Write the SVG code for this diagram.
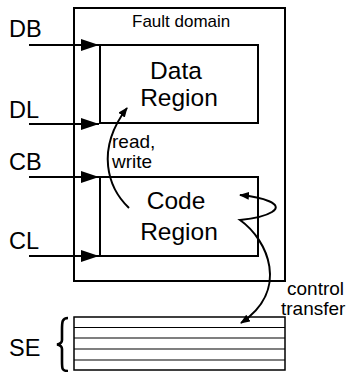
<svg xmlns="http://www.w3.org/2000/svg" width="351" height="372" viewBox="0 0 351 372">
<style>
text{font-family:"Liberation Sans",Arial,sans-serif;fill:#000}
.box{fill:#fff;stroke:#000;stroke-width:2}
.big{font-size:24.5px}
.lab{font-size:23.5px}
.mid{font-size:19px}
.conn{fill:none;stroke:#000;stroke-width:2}
.thin{fill:none;stroke:#000;stroke-width:1.2}
</style>
<defs>
<marker id="tri" markerWidth="10" markerHeight="8" refX="9" refY="4" orient="auto-start-reverse" markerUnits="userSpaceOnUse" viewBox="0 0 10 8">
<path d="M0,0 L10,4 L0,8 Z" fill="#000"/>
</marker>
<marker id="big" markerWidth="18" markerHeight="12" refX="18" refY="6" orient="auto" markerUnits="userSpaceOnUse" viewBox="0 0 18 12">
<path d="M0,0 L18,6 L0,12 Z" fill="#000"/>
</marker>
</defs>
<g id="fault-domain">
<rect class="box" x="74" y="8" width="211" height="273"/>
<text x="132" y="27" style="font-size:17px">Fault domain</text>
</g>
<g id="data-region">
<rect class="box" x="100" y="45" width="158" height="78"/>
<text class="big" x="176" y="79" text-anchor="middle">Data</text>
<text class="big" x="179" y="106" text-anchor="middle">Region</text>
</g>
<g id="code-region">
<rect class="box" x="100" y="177" width="158" height="79"/>
<text class="big" x="176" y="209" text-anchor="middle">Code</text>
<text class="big" x="179" y="240" text-anchor="middle">Region</text>
</g>
<g id="stack">
<rect x="74" y="317" width="211" height="53" fill="#fff" stroke="#000" stroke-width="1.5"/>
<path class="thin" d="M74,327.5H285M74,338H285M74,349H285M74,360H285"/>
<path d="M68,318 C62,318 62,322 62,330 L62,340 C62,343 60,344 57,344.5 C60,345 62,346 62,349 L62,361 C62,369 62,371 68,371" fill="none" stroke="#000" stroke-width="2.6"/>
<text class="lab" x="9" y="356">SE</text>
</g>
<g id="labels">
<text class="lab" x="9" y="37">DB</text>
<text class="lab" x="9" y="118">DL</text>
<text class="lab" x="9" y="170">CB</text>
<text class="lab" x="9" y="249">CL</text>
<text class="mid" x="112" y="148">read,</text>
<text class="mid" x="112" y="168">write</text>
<text class="mid" x="287" y="295">control</text>
<text class="mid" x="281" y="315">transfer</text>
</g>
<g id="connectors">
<path class="conn" d="M29,45 H99" marker-end="url(#big)"/>
<path class="conn" d="M29,124 H99" marker-end="url(#big)"/>
<path class="conn" d="M29,177 H99" marker-end="url(#big)"/>
<path class="conn" d="M29,256 H99" marker-end="url(#big)"/>
<path class="conn" d="M129,208 C108,188 95,150 127,108" marker-end="url(#tri)"/>
<path class="conn" d="M240,195 C262,197 285,204 272,212 C264,217 250,219 240,220 C268,240 290,290 241,323" marker-start="url(#tri)" marker-end="url(#tri)"/>
</g>
</svg>
